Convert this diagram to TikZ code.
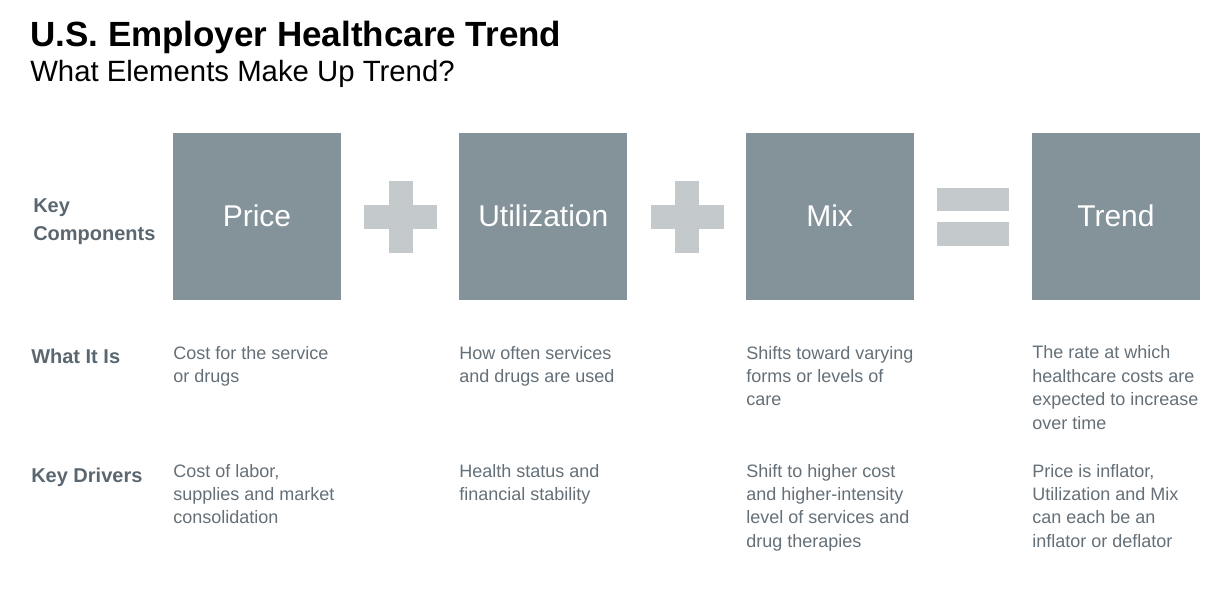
\documentclass[tikz,border=0pt]{standalone}
\usepackage{fontspec}
\setmainfont{Liberation Sans}
\definecolor{boxgray}{HTML}{84929A}
\definecolor{signgray}{HTML}{C4C9CC}
\definecolor{labelgray}{HTML}{5B6770}
\definecolor{textgray}{HTML}{646F77}
\begin{document}
\begin{tikzpicture}[x=0.75pt, y=-0.75pt,
    comp/.style={fill=boxgray, minimum width=126pt, minimum height=125.25pt, inner sep=0pt, text=white, text height=16.1pt, text depth=1pt, font=\fontsize{22.5}{27}\selectfont},
    rowlabel/.style={anchor=base west, inner sep=0pt, text=labelgray, align=left, font=\bfseries\fontsize{15}{21}\selectfont},
    desc/.style={anchor=base west, inner sep=0pt, text=textgray, align=left, font=\fontsize{13.5}{17.5}\selectfont},
    sign/.style={fill=signgray}]
    \def\boxy{216.5} % centre line of the boxes
    \def\gap{286.3} % distance between columns
    \def\lh{23.33} % line height of the notes

    \useasboundingbox (0,0) rectangle (1230,604);

    % Title
    \node[anchor=base west, inner sep=0pt, font=\bfseries\fontsize{26.25}{30}\selectfont] (title) at (30,46) {U.S. Employer Healthcare Trend};
    \node[anchor=base west, inner sep=0pt, font=\fontsize{22}{26}\selectfont] (subtitle) at (30,81) {What Elements Make Up Trend?};

    % Row labels (anchored on the last line)
    \node[rowlabel] (lkey) at (33,240) {Key\\Components};
    \node[rowlabel] (lwhat) at (31,363) {What It Is};
    \node[rowlabel] (ldrv) at (31,482) {Key Drivers};

    % Component boxes
    \foreach \name/\txt [count=\i from 0] in {price/Price, util/Utilization, mix/Mix, trend/Trend} {
        \node[comp] (\name) at ({257+\i*\gap},\boxy) {\txt};
    }

    % Plus signs
    \foreach \cx in {400.5, 687} {
        \fill[sign] ({\cx-36.5},{\boxy-12}) rectangle ({\cx+36.5},{\boxy+12});
        \fill[sign] ({\cx-12},{\boxy-36}) rectangle ({\cx+12},{\boxy+36});
    }

    % Equals sign
    \fill[sign] (937,188) rectangle (1009,211);
    \fill[sign] (937,222) rectangle (1009,246);

    % What it is
    \node[desc] (wprice) at (173,{359+\lh}) {Cost for the service\\or drugs};
    \node[desc] (wutil) at (459,{359+\lh}) {How often services\\and drugs are used};
    \node[desc] (wmix) at (746,{359+2*\lh}) {Shifts toward varying\\forms or levels of\\care};
    \node[desc] (wtrend) at (1032,{359+3*\lh}) {The rate at which\\healthcare costs are\\expected to increase\\over time};

    % Key drivers
    \node[desc] (dprice) at (173,{477+2*\lh}) {Cost of labor,\\supplies and market\\consolidation};
    \node[desc] (dutil) at (459,{477+\lh}) {Health status and\\financial stability};
    \node[desc] (dmix) at (746,{477+3*\lh}) {Shift to higher cost\\and higher-intensity\\level of services and\\drug therapies};
    \node[desc] (dtrend) at (1032,{477+3*\lh}) {Price is inflator,\\Utilization and Mix\\can each be an\\inflator or deflator};
\end{tikzpicture}
\end{document}
